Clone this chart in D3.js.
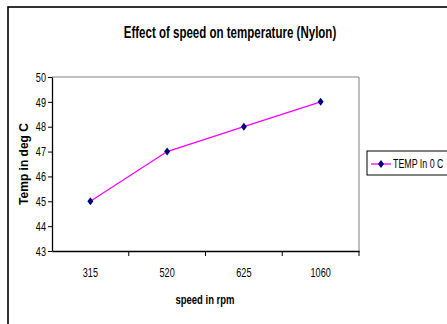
<!DOCTYPE html>
<html>
<head>
<meta charset="UTF-8">
<script src="https://d3js.org/d3.v7.min.js"></script>
<style>
  body { margin: 0; background: #fff; }
  svg text { font-family: "Liberation Sans", Arial, sans-serif; fill: #000; }
</style>
</head>
<body>
<svg id="chart" width="447" height="324"></svg>
<script>
// data
const speeds = ["315", "520", "625", "1060"];
const temps = [45, 47, 48, 49];
const yTicks = [43, 44, 45, 46, 47, 48, 49, 50];
const seriesName = "TEMP In 0 C";

const svg = d3.select("#chart");

// squeeze text horizontally, the original uses a narrow face
function narrow(sel, k) {
  sel.each(function () {
    const w = this.getComputedTextLength();
    d3.select(this).attr("textLength", w * (k || 0.8)).attr("lengthAdjust", "spacingAndGlyphs");
  });
}

// outer frame (runs off the right and bottom edges)
svg.append("rect")
  .attr("x", 8).attr("y", 7)
  .attr("width", 460).attr("height", 330)
  .attr("fill", "none").attr("stroke", "#000").attr("stroke-width", 1.6);

const plot = { left: 52, top: 77, right: 359, bottom: 251 };

const x = d3.scaleBand().domain(speeds).range([plot.left, plot.right]);
const y = d3.scaleLinear().domain([43, 50]).range([plot.bottom, plot.top]);

// plot area border (gray top/right)
svg.append("path")
  .attr("d", `M${plot.left},${plot.top}H${plot.right}V${plot.bottom}`)
  .attr("fill", "none").attr("stroke", "#808080").attr("stroke-width", 1);

// y axis
const yAxis = svg.append("g")
  .attr("transform", `translate(${plot.left},0)`)
  .call(d3.axisLeft(y).tickValues(yTicks).tickFormat(d3.format("d"))
    .tickSize(4).tickSizeOuter(0).tickPadding(2));
yAxis.select(".domain").attr("stroke", "#000").attr("stroke-width", 1.3);
yAxis.selectAll("text").attr("font-size", 13).style("font-family", null).call(narrow, 0.7);

// x axis: labels centred in bands, ticks at band edges
const xAxis = svg.append("g")
  .attr("transform", `translate(0,${plot.bottom})`)
  .call(d3.axisBottom(x).tickSize(0).tickSizeOuter(0).tickPadding(17));
xAxis.select(".domain").attr("stroke", "#000").attr("stroke-width", 1.5);
xAxis.selectAll("text").attr("font-size", 13).style("font-family", null).call(narrow, 0.7);
xAxis.selectAll("line.edge")
  .data(speeds)
  .enter().append("line")
  .attr("class", "edge")
  .attr("x1", d => x(d) + x.bandwidth()).attr("x2", d => x(d) + x.bandwidth())
  .attr("y1", 0).attr("y2", 5)
  .attr("stroke", "#000").attr("stroke-width", 1);

// line
const cx = (d, i) => x(speeds[i]) + x.bandwidth() / 2;
svg.append("path")
  .datum(temps)
  .attr("fill", "none")
  .attr("stroke", "#ff00ff")
  .attr("stroke-width", 1.3)
  .attr("d", d3.line().x(cx).y(d => y(d)));

// diamond markers
const diamond = "M0,-4L3,0L0,4L-3,0Z";
svg.selectAll(".pt")
  .data(temps)
  .enter().append("path")
  .attr("class", "pt")
  .attr("transform", (d, i) => `translate(${cx(d, i)},${y(d)})`)
  .attr("d", diamond)
  .attr("fill", "#000080");

// title
svg.append("text")
  .attr("x", 230).attr("y", 38)
  .attr("text-anchor", "middle")
  .attr("font-size", 16).attr("font-weight", "bold")
  .text("Effect of speed on temperature (Nylon)")
  .call(narrow, 0.72);

// axis titles
svg.append("text")
  .attr("transform", "translate(28,164) rotate(-90)")
  .attr("text-anchor", "middle")
  .attr("font-size", 12).attr("font-weight", "bold")
  .text("Temp in deg C");

svg.append("text")
  .attr("x", 205).attr("y", 304)
  .attr("text-anchor", "middle")
  .attr("font-size", 13).attr("font-weight", "bold")
  .text("speed in rpm")
  .call(narrow, 0.73);

// legend
const lg = svg.append("g").attr("transform", "translate(367,151)");
lg.append("rect")
  .attr("width", 100).attr("height", 24)
  .attr("fill", "#fff").attr("stroke", "#000").attr("stroke-width", 1);
lg.append("line")
  .attr("x1", 4).attr("x2", 24).attr("y1", 13).attr("y2", 13)
  .attr("stroke", "#ff00ff").attr("stroke-width", 1.3);
lg.append("path")
  .attr("transform", "translate(14,13)")
  .attr("d", diamond).attr("fill", "#000080");
lg.append("text")
  .attr("x", 26).attr("y", 17)
  .attr("font-size", 13)
  .text(seriesName)
  .call(narrow, 0.68);
</script>
</body>
</html>
